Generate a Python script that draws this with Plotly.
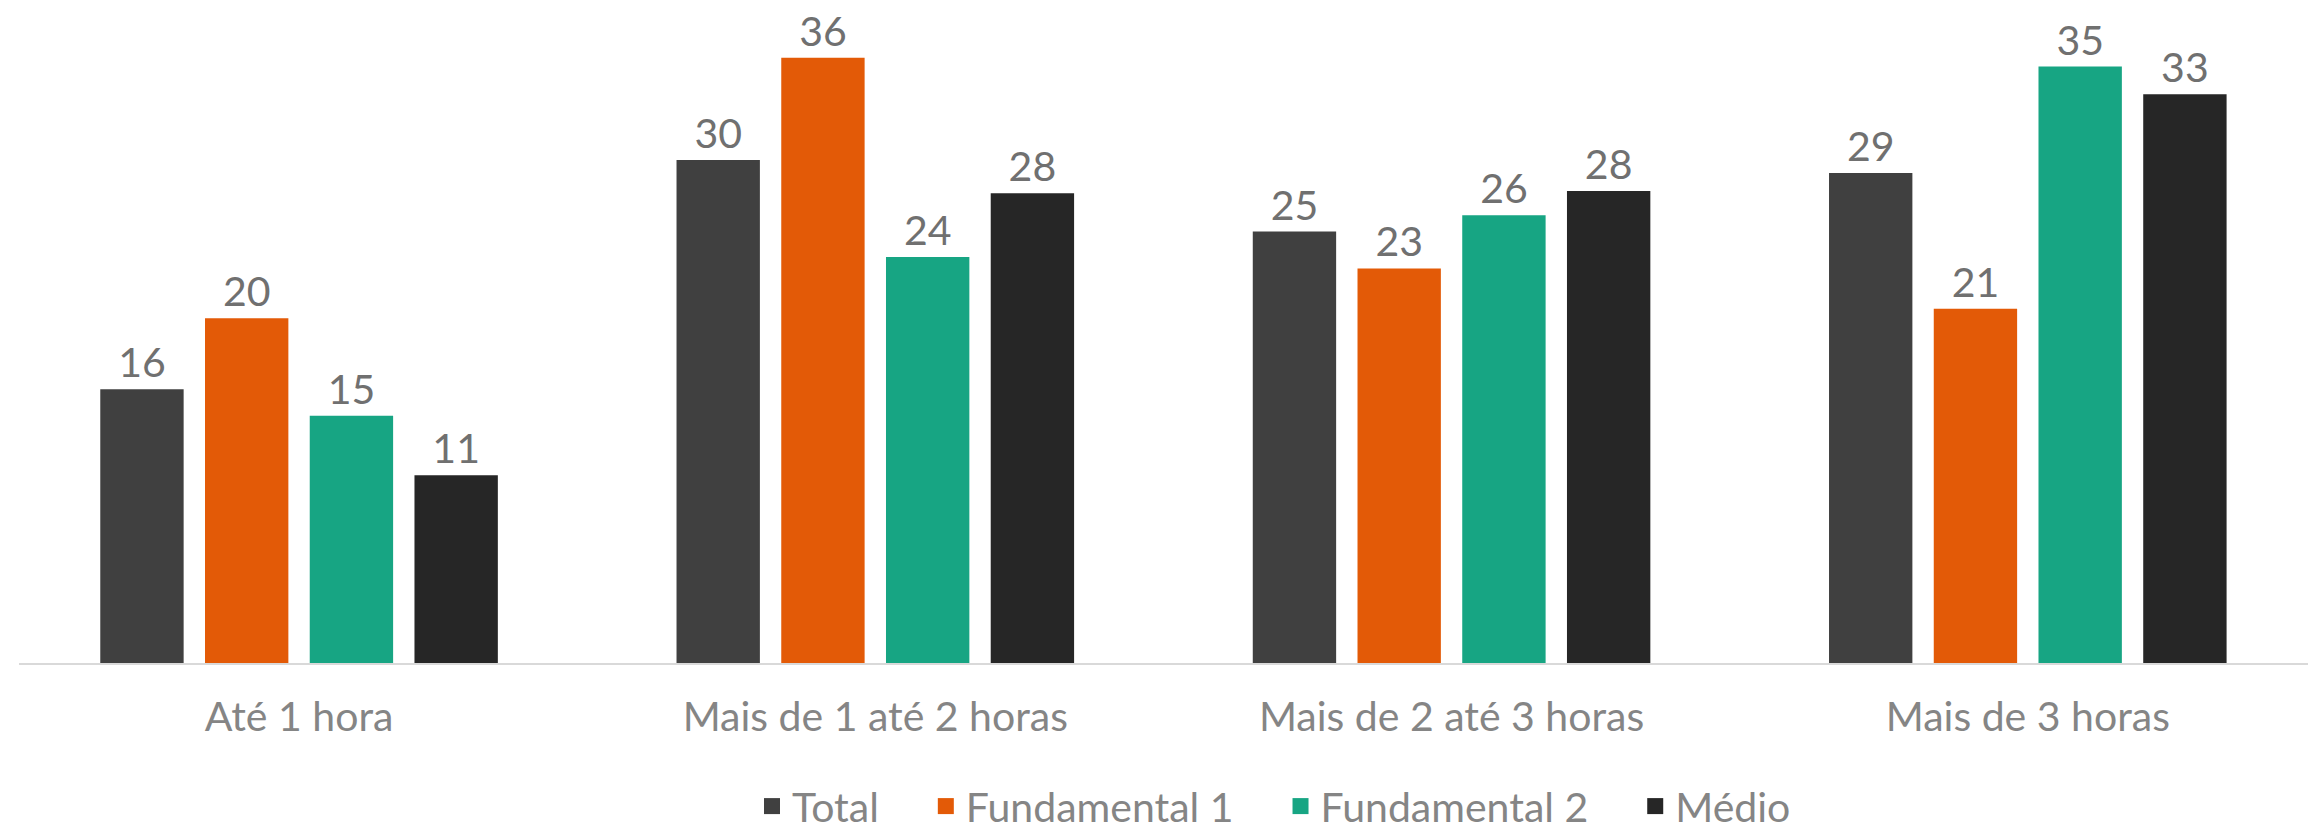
import plotly.graph_objects as go

categories = ["Até 1 hora", "Mais de 1 até 2 horas", "Mais de 2 até 3 horas", "Mais de 3 horas"]
series_names = ["Total", "Fundamental 1", "Fundamental 2", "Médio"]
total = [16.09, 29.56, 25.36, 28.80]
fundamental1 = [20.26, 35.58, 23.19, 20.82]
fundamental2 = [14.53, 23.87, 26.32, 35.06]
medio = [11.03, 27.61, 27.74, 33.43]
colors = ["#404040", "#E35A07", "#17A583", "#262626"]

values = [total, fundamental1, fundamental2, medio]

FONT = "Lato"
fig = go.Figure()
for name, vals, col in zip(series_names, values, colors):
    fig.add_trace(go.Bar(
        name=name, x=categories, y=vals, showlegend=False,
        marker=dict(color=col, line=dict(width=0)),
        texttemplate="%{y:.0f}", textposition="outside", cliponaxis=False,
        textfont=dict(family=FONT, size=41, color="#707070"),
    ))
# legend entries (square swatches)
for name, col in zip(series_names, colors):
    fig.add_trace(go.Scatter(
        name=name + "\u00a0\u00a0\u00a0\u00a0", x=[None], y=[None], mode="markers",
        marker=dict(symbol="square", size=22, color=col),
        showlegend=True,
    ))

fig.update_layout(
    width=2316, height=832,
    margin=dict(l=11, r=0, t=0, b=166),
    paper_bgcolor="white", plot_bgcolor="white",
    barmode="group", bargap=0.273, bargroupgap=0.204,
    font=dict(family=FONT, size=41, color="#858585"),
    showlegend=True,
    legend=dict(orientation="h", x=0.318, xanchor="left", y=-0.219, yanchor="middle",
                font=dict(family=FONT, size=41, color="#858585"),
                itemsizing="trace", traceorder="normal", itemwidth=30),
    xaxis=dict(showline=True, linecolor="#d9d9d9", linewidth=2, ticks="",
               showgrid=False, ticklabelstandoff=17, range=[-0.486, 3.514],
               tickfont=dict(family=FONT, size=41, color="#858585")),
    yaxis=dict(visible=False, range=[0, 38.5], showgrid=False, zeroline=False),
)

fig.write_html("out.html")
